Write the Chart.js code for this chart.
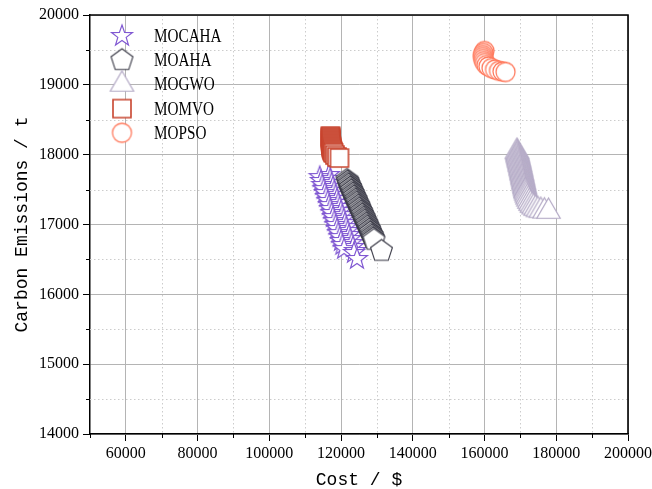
<!DOCTYPE html>
<html><head><meta charset="utf-8">
<script src="https://cdn.jsdelivr.net/npm/chart.js@4.4.0/dist/chart.umd.min.js"></script>
<style>html,body{margin:0;padding:0;background:#fff;}canvas{display:block;}</style>
</head><body>
<canvas id="c" width="652" height="489"></canvas>
<script>
// ---- data ----
const seriesNames = ['MOCAHA', 'MOAHA', 'MOGWO', 'MOMVO', 'MOPSO'];

const mocahaCost = [116620,114040,116980,114400,117370,114770,117740,115150,118100,115520,118480,115880,118850,116270,119220,116640,119600,117000,119970,117380,120330,117750,120720,118120,121080,118500,121450,118870,121830,119230,122200,119620,122560,119980,122940,120350,123310,120820,123870,123600,124440];
const mocahaEmis = [17709,17680,17651,17623,17594,17566,17537,17508,17480,17451,17422,17394,17365,17337,17308,17279,17251,17222,17193,17165,17136,17107,17079,17050,17021,16993,16964,16936,16907,16878,16850,16821,16793,16764,16735,16707,16678,16649,16621,16592,16506];

const moahaCost = [121650,121870,122030,122190,122400,122620,122780,122940,123160,123370,123530,123690,123910,124130,124280,124440,124660,124880,125040,125190,125410,125630,125790,125950,126160,126380,126540,126700,126920,127140,127290,127450,127670,127900,128040,128200,128420,128660,128800,128960,129180,131270];
const moahaEmis = [17637,17616,17594,17573,17551,17530,17508,17487,17465,17444,17422,17401,17379,17358,17336,17315,17293,17272,17250,17229,17207,17186,17164,17143,17121,17100,17078,17057,17035,17014,16992,16971,16949,16928,16906,16885,16863,16842,16820,16799,16778,16620];

const mogwoCost = [169050,169120,169200,169310,169380,169450,169560,169620,169700,169790,169870,169950,170030,170100,170190,170260,170330,170420,170500,170560,170640,170720,170800,170870,170950,171030,171100,171180,171260,171330,171420,171500,171600,171780,171950,172200,172500,172850,173250,173700,174250,174900,175700,176700,177835];
const mogwoEmis = [18045,18027,18008,17990,17971,17952,17934,17915,17897,17878,17860,17841,17822,17804,17785,17767,17748,17730,17711,17692,17674,17655,17637,17618,17600,17581,17562,17544,17525,17507,17488,17470,17448,17420,17392,17362,17330,17300,17272,17249,17228,17210,17198,17190,17186];

const momvoCost = [117050,117050,117070,117090,117100,117120,117140,117160,117190,117220,117260,117300,117350,117420,117500,117600,117740,117920,118300,118850,119560];
const momvoEmis = [18267,18253,18239,18224,18210,18196,18181,18167,18153,18138,18124,18110,18095,18081,18067,18052,18038,18024,17995,17967,17952];

const mopsoCost = [159990,159710,159570,159570,159650,159850,160130,160550,161100,161940,162920,164030,165000,165850];
const mopsoEmis = [19484,19456,19427,19399,19370,19341,19313,19284,19263,19241,19220,19201,19191,19184];

const xTickLabels = [60000,80000,100000,120000,140000,160000,180000,200000];
const yTickLabels = [14000,15000,16000,17000,18000,19000,20000];
const xMinorTicks = [50000,70000,90000,110000,130000,150000,170000,190000];
const yMinorTicks = [14500,15500,16500,17500,18500,19500];

// ---- styles ----
const colors = ['rgb(128,88,210)', 'rgb(55,55,68)', 'rgb(180,170,198)', 'rgb(200,68,46)', 'rgb(255,124,96)'];
const shapes = ['star', 'pentagon', 'triangle', 'square', 'circle'];
const sizes  = [11, 11.5, 13.5, 9, 9.5];
const strokeWidths = [1.2, 1.1, 1.2, 1.6, 1.3];

function makeMarker(shape, color, r, lw) {
  const s = Math.ceil(2 * r + 6);
  const c = document.createElement('canvas');
  c.width = s; c.height = s;
  const g = c.getContext('2d');
  const cx = s / 2, cy = s / 2;
  g.beginPath();
  if (shape === 'star') {
    for (let i = 0; i < 10; i++) {
      const a = -Math.PI / 2 + i * Math.PI / 5;
      const rr = i % 2 ? r * 0.4 : r;
      const px = cx + rr * Math.cos(a), py = cy + rr * Math.sin(a);
      i ? g.lineTo(px, py) : g.moveTo(px, py);
    }
  } else if (shape === 'pentagon') {
    for (let i = 0; i < 5; i++) {
      const a = -Math.PI / 2 + i * 2 * Math.PI / 5;
      const px = cx + r * Math.cos(a), py = cy + r * Math.sin(a);
      i ? g.lineTo(px, py) : g.moveTo(px, py);
    }
  } else if (shape === 'triangle') {
    for (let i = 0; i < 3; i++) {
      const a = -Math.PI / 2 + i * 2 * Math.PI / 3;
      const px = cx + r * Math.cos(a), py = cy + r * Math.sin(a);
      i ? g.lineTo(px, py) : g.moveTo(px, py);
    }
  } else if (shape === 'square') {
    g.rect(cx - r, cy - r, 2 * r, 2 * r);
  } else {
    g.arc(cx, cy, r, 0, Math.PI * 2);
  }
  g.closePath();
  g.fillStyle = '#fff';
  g.fill();
  g.lineWidth = lw;
  g.strokeStyle = color;
  g.stroke();
  return c;
}

const markers = shapes.map((s, i) => makeMarker(s, colors[i], sizes[i], strokeWidths[i]));

const costs = [mocahaCost, moahaCost, mogwoCost, momvoCost, mopsoCost];
const emis  = [mocahaEmis, moahaEmis, mogwoEmis, momvoEmis, mopsoEmis];

const datasets = seriesNames.map((name, i) => ({
  label: name,
  data: costs[i].map((c, j) => ({ x: c, y: emis[i][j] })),
  pointStyle: markers[i],
  pointRadius: sizes[i],
  borderColor: colors[i],
  backgroundColor: '#fff',
  showLine: false,
  order: seriesNames.length - i
}));

const serif = 'Liberation Serif';
const mono = 'Liberation Mono';

const extrasPlugin = {
  id: 'extras',
  beforeDatasetsDraw(chart) {
    const { ctx, chartArea: a, scales: { x, y } } = chart;
    ctx.save();
    ctx.strokeStyle = '#cccccc';
    ctx.lineWidth = 1;
    ctx.setLineDash([1.5, 2.5]);
    xMinorTicks.forEach(v => {
      if (v <= x.min) return;
      const px = Math.round(x.getPixelForValue(v)) + 0.5;
      ctx.beginPath(); ctx.moveTo(px, a.top); ctx.lineTo(px, a.bottom); ctx.stroke();
    });
    yMinorTicks.forEach(v => {
      const py = Math.round(y.getPixelForValue(v)) + 0.5;
      ctx.beginPath(); ctx.moveTo(a.left, py); ctx.lineTo(a.right, py); ctx.stroke();
    });
    ctx.restore();
  },
  afterDraw(chart) {
    const { ctx, chartArea: a, scales: { x, y } } = chart;
    ctx.save();
    ctx.strokeStyle = '#000';
    ctx.lineWidth = 1;
    xMinorTicks.forEach(v => {
      const px = Math.round(x.getPixelForValue(v)) + 0.5;
      ctx.beginPath(); ctx.moveTo(px, a.bottom); ctx.lineTo(px, a.bottom + 4); ctx.stroke();
    });
    yMinorTicks.forEach(v => {
      const py = Math.round(y.getPixelForValue(v)) + 0.5;
      ctx.beginPath(); ctx.moveTo(a.left, py); ctx.lineTo(a.left - 4, py); ctx.stroke();
    });
    ctx.lineWidth = 1.6;
    ctx.beginPath();
    ctx.moveTo(a.left, a.top); ctx.lineTo(a.right, a.top); ctx.lineTo(a.right, a.bottom);
    ctx.stroke();
    seriesNames.forEach((name, i) => {
      const cy = a.top + 21 + i * 24.2;
      const cx = a.left + 32;
      const m = markers[i];
      ctx.drawImage(m, cx - m.width / 2, cy - m.height / 2);
      ctx.save();
      ctx.translate(a.left + 64, cy);
      ctx.scale(0.8, 1);
      ctx.fillStyle = '#000';
      ctx.font = '19px "' + serif + '"';
      ctx.textBaseline = 'middle';
      ctx.textAlign = 'left';
      ctx.fillText(name, 0, 1);
      ctx.restore();
    });
    ctx.restore();
  }
};

new Chart(document.getElementById('c'), {
  type: 'scatter',
  data: { datasets },
  options: {
    responsive: false,
    animation: false,
    layout: { padding: { top: 15, right: 24, left: 0, bottom: 0 } },
    plugins: { legend: { display: false }, tooltip: { enabled: false } },
    scales: {
      x: {
        type: 'linear', min: 50000, max: 200000,
        afterFit(s) { s.height = 55; s.paddingLeft = 0; s.paddingRight = 0; },
        ticks: {
          stepSize: 20000,
          autoSkip: false, maxRotation: 0, padding: 3,
          color: '#000', font: { family: serif, size: 16 },
          callback: v => xTickLabels.includes(v) ? String(v) : ''
        },
        afterBuildTicks(s) { s.ticks = xTickLabels.map(v => ({ value: v })); },
        grid: { color: '#b4b4b4', lineWidth: 1, tickColor: '#000', tickLength: 7, drawTicks: true },
        border: { color: '#000', width: 1.5 },
        title: { display: true, text: 'Cost / $', color: '#000', font: { family: mono, size: 18 }, padding: { top: -2, bottom: -2 } }
      },
      y: {
        type: 'linear', min: 14000, max: 20000,
        afterFit(s) { s.width = 90; s.paddingTop = 0; s.paddingBottom = 0; },
        ticks: {
          stepSize: 1000,
          autoSkip: false, padding: 4,
          color: '#000', font: { family: serif, size: 16 },
          callback: v => yTickLabels.includes(v) ? String(v) : ''
        },
        afterBuildTicks(s) { s.ticks = yTickLabels.map(v => ({ value: v })); },
        grid: { color: '#b4b4b4', lineWidth: 1, tickColor: '#000', tickLength: 7, drawTicks: true },
        border: { color: '#000', width: 1.5 },
        title: { display: true, text: 'Carbon Emissions / t', color: '#000', font: { family: mono, size: 18 }, padding: { top: 11, bottom: 11 } }
      }
    }
  },
  plugins: [extrasPlugin]
});
</script>
</body></html>
